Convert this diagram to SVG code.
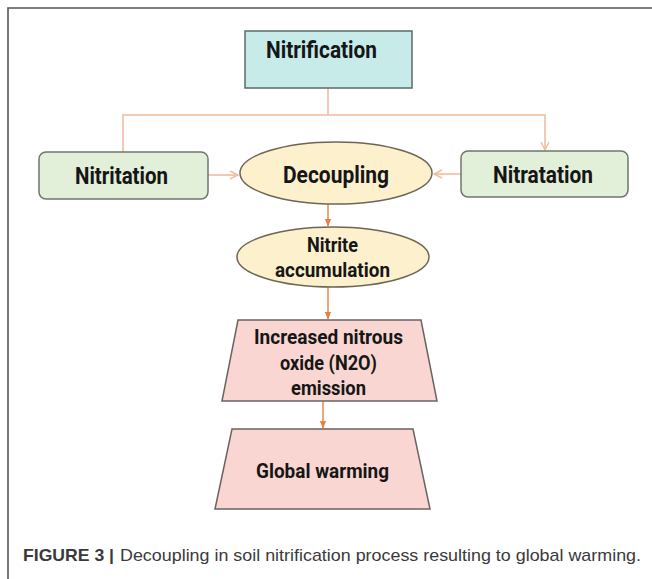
<svg xmlns="http://www.w3.org/2000/svg" width="652" height="579" viewBox="0 0 652 579">
<defs>
<style>
.lbl{font-family:"Roboto","Liberation Sans",sans-serif;font-weight:700;fill:#161616;}
.big{font-size:24px;}
.mid{font-size:20px;}
.conn{fill:none;stroke:#f1bc9e;stroke-width:1.6;}
.conn2{fill:none;stroke:#e8925a;stroke-width:1.6;}
.cap{font-family:"Liberation Sans","Arial",sans-serif;font-size:17px;fill:#3a3a3a;}
</style>
<marker id="open" viewBox="0 0 10 10" refX="9" refY="5" markerWidth="10" markerHeight="10" markerUnits="userSpaceOnUse" orient="auto">
<path d="M1,1 L9,5 L1,9" fill="none" stroke="#f1bc9e" stroke-width="1.4"/>
</marker>
<marker id="solid" viewBox="0 0 10 10" refX="9" refY="5" markerWidth="8" markerHeight="8" markerUnits="userSpaceOnUse" orient="auto">
<path d="M0,1 L10,5 L0,9 Z" fill="#e8803f"/>
</marker>
</defs>
<rect width="652" height="579" fill="#ffffff"/>
<path d="M8,579 V8 H652" fill="none" stroke="#555555" stroke-width="1.6"/>

<g id="connectors">
<path class="conn" d="M328,88 V115"/>
<path class="conn" d="M123,152 V115 H545 V150" marker-end="url(#open)"/>
<path class="conn" d="M208,175 H238" marker-end="url(#open)"/>
<path class="conn" d="M461,174 H434" marker-end="url(#open)"/>
<path class="conn2" d="M328,204 V226" marker-end="url(#solid)"/>
<path class="conn2" d="M328,287 V319" marker-end="url(#solid)"/>
<path class="conn2" d="M323,398 V428" marker-end="url(#solid)"/>
</g>

<g id="nitrification">
<rect x="245" y="31" width="167" height="57" fill="#c6ebe9" stroke="#5e6a6a" stroke-width="1.5"/>
<text class="lbl big" x="266" y="58" textLength="111" lengthAdjust="spacingAndGlyphs">Nitrification</text>
</g>

<g id="nitritation">
<rect x="39" y="152" width="169" height="47" rx="7" fill="#e2efd9" stroke="#6d776d" stroke-width="1.5"/>
<text class="lbl big" x="75" y="184" textLength="93" lengthAdjust="spacingAndGlyphs">Nitritation</text>
</g>

<g id="nitratation">
<rect x="461" y="151" width="167" height="46" rx="7" fill="#e2efd9" stroke="#6d776d" stroke-width="1.5"/>
<text class="lbl big" x="493" y="183" textLength="100" lengthAdjust="spacingAndGlyphs">Nitratation</text>
</g>

<g id="decoupling">
<ellipse cx="336" cy="173" rx="96" ry="31" fill="#fdf0cd" stroke="#6b6655" stroke-width="1.5"/>
<text class="lbl big" x="283" y="183" textLength="106" lengthAdjust="spacingAndGlyphs">Decoupling</text>
</g>

<g id="nitrite">
<ellipse cx="333" cy="257" rx="96" ry="30" fill="#fdf0cd" stroke="#6b6655" stroke-width="1.5"/>
<text class="lbl mid" x="307" y="252" textLength="51" lengthAdjust="spacingAndGlyphs">Nitrite</text>
<text class="lbl mid" x="275" y="277" textLength="115" lengthAdjust="spacingAndGlyphs">accumulation</text>
</g>

<g id="emission">
<polygon points="238,320 421,320 437,401 222,401" fill="#f9d6d1" stroke="#6b6262" stroke-width="1.5"/>
<text class="lbl mid" x="254" y="344" textLength="149" lengthAdjust="spacingAndGlyphs">Increased nitrous</text>
<text class="lbl mid" x="280" y="370" textLength="97" lengthAdjust="spacingAndGlyphs">oxide (N2O)</text>
<text class="lbl mid" x="291" y="395" textLength="75" lengthAdjust="spacingAndGlyphs">emission</text>
</g>

<g id="global-warming">
<polygon points="232,429 413,429 430,509 215,509" fill="#f9d6d1" stroke="#6b6262" stroke-width="1.5"/>
<text class="lbl mid" x="256" y="478" textLength="133" lengthAdjust="spacingAndGlyphs">Global warming</text>
</g>

<g id="caption">
<text class="cap" x="23" y="561" font-weight="700" fill="#222222" textLength="91" lengthAdjust="spacingAndGlyphs">FIGURE 3 |</text>
<text class="cap" x="120" y="561" textLength="521" lengthAdjust="spacingAndGlyphs">Decoupling in soil nitrification process resulting to global warming.</text>
</g>
</svg>
